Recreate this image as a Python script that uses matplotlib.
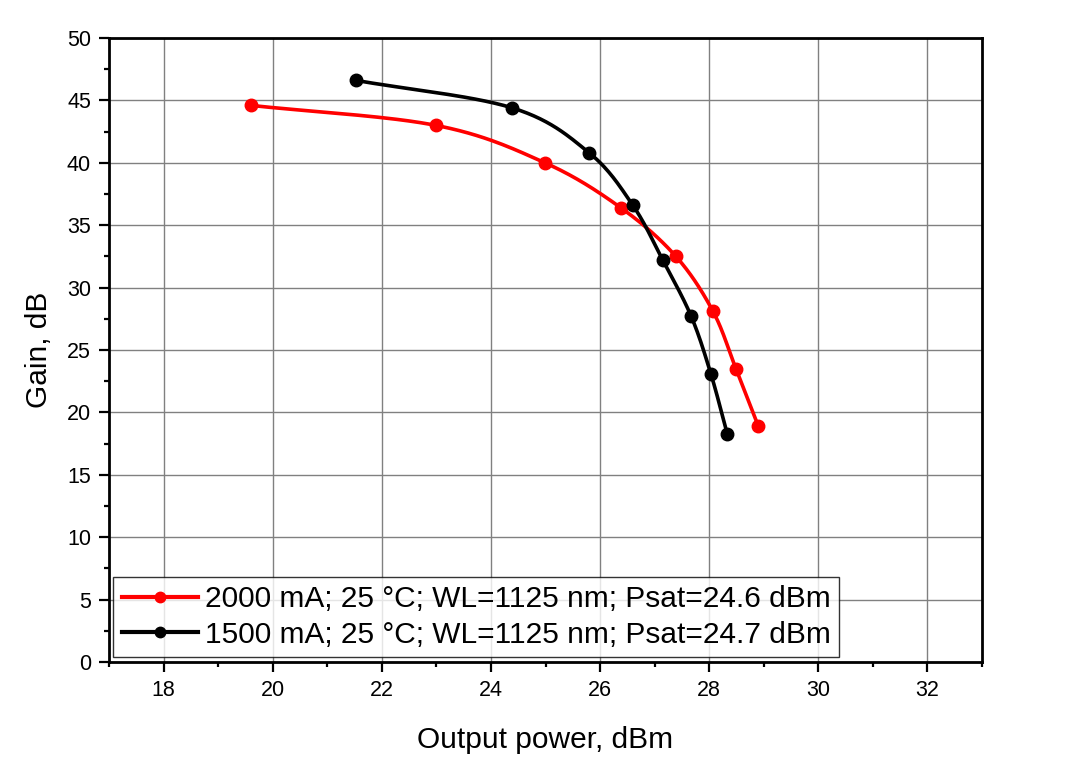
import numpy as np
import matplotlib
matplotlib.use("Agg")
from matplotlib import pyplot as plt
from matplotlib.ticker import MultipleLocator

# data
p_2000 = [19.60, 22.99, 24.99, 26.38, 27.39, 28.07, 28.49, 28.90]
g_2000 = [44.6, 43.0, 40.0, 36.4, 32.5, 28.1, 23.5, 18.9]
p_1500 = [21.53, 24.39, 25.80, 26.60, 27.15, 27.67, 28.03, 28.33]
g_1500 = [46.6, 44.4, 40.8, 36.6, 32.2, 27.7, 23.1, 18.3]

label_2000 = "2000 mA; 25 °C; WL=1125 nm; Psat=24.6 dBm"
label_1500 = "1500 mA; 25 °C; WL=1125 nm; Psat=24.7 dBm"


def smooth(x, y, n=30):
    # catmull-rom through the points, just for drawing the curve
    pts = np.column_stack([x, y]).astype(float)
    pts = np.vstack([2 * pts[0] - pts[1], pts, 2 * pts[-1] - pts[-2]])
    out = []
    t = np.linspace(0, 1, n)[:, None]
    for i in range(1, len(pts) - 2):
        p0, p1, p2, p3 = pts[i - 1], pts[i], pts[i + 1], pts[i + 2]
        seg = 0.5 * ((2 * p1) + (-p0 + p2) * t + (2 * p0 - 5 * p1 + 4 * p2 - p3) * t ** 2
                     + (-p0 + 3 * p1 - 3 * p2 + p3) * t ** 3)
        out.append(seg)
    out = np.vstack(out)
    return out[:, 0], out[:, 1]


plt.rcParams['font.family'] = ['Liberation Sans', 'DejaVu Sans']

fig = plt.figure(figsize=(10.91, 7.62), dpi=100)
ax = fig.add_axes([109 / 1091, 100 / 762, 873 / 1091, 624 / 762])

red = '#ff0000'
blk = '#000000'

sx, sy = smooth(p_2000, g_2000)
ax.plot(sx, sy, color=red, lw=2.6, zorder=3)
ax.plot(p_2000, g_2000, 'o', color=red, ms=9, zorder=4)
sx, sy = smooth(p_1500, g_1500)
ax.plot(sx, sy, color=blk, lw=2.6, zorder=3)
ax.plot(p_1500, g_1500, 'o', color=blk, ms=9, zorder=4)

# legend handles
h1, = ax.plot([], [], '-o', color=red, lw=3, ms=7.5)
h2, = ax.plot([], [], '-o', color=blk, lw=3, ms=7.5)
leg = ax.legend([h1, h2], [label_2000, label_1500], loc='lower left',
                bbox_to_anchor=(0.005, 0.008), fontsize=21.5, frameon=True,
                fancybox=False, edgecolor='black', handlelength=2.55,
                handletextpad=0.23, borderpad=0.28, labelspacing=0.24,
                borderaxespad=0.0)
leg.get_frame().set_linewidth(1.0)

ax.set_xlim(17, 33)
ax.set_ylim(0, 50)
ax.xaxis.set_major_locator(MultipleLocator(2))
ax.xaxis.set_minor_locator(MultipleLocator(1))
ax.yaxis.set_major_locator(MultipleLocator(5))
ax.yaxis.set_minor_locator(MultipleLocator(2.5))
ax.grid(True, which='major', color='#808080', lw=1.0)
ax.set_axisbelow(True)

ax.tick_params(which='major', direction='out', length=7, width=1.6, labelsize=15.5, pad=6)
ax.tick_params(which='minor', direction='out', length=3.6, width=1.6)
ax.tick_params(top=False, right=False)
for s in ax.spines.values():
    s.set_linewidth(2)

ax.set_xlabel('Output power, dBm', fontsize=21.5, labelpad=18)
ax.set_ylabel('Gain, dB', fontsize=21.5, labelpad=10)

fig.savefig('out.png', dpi=100)
